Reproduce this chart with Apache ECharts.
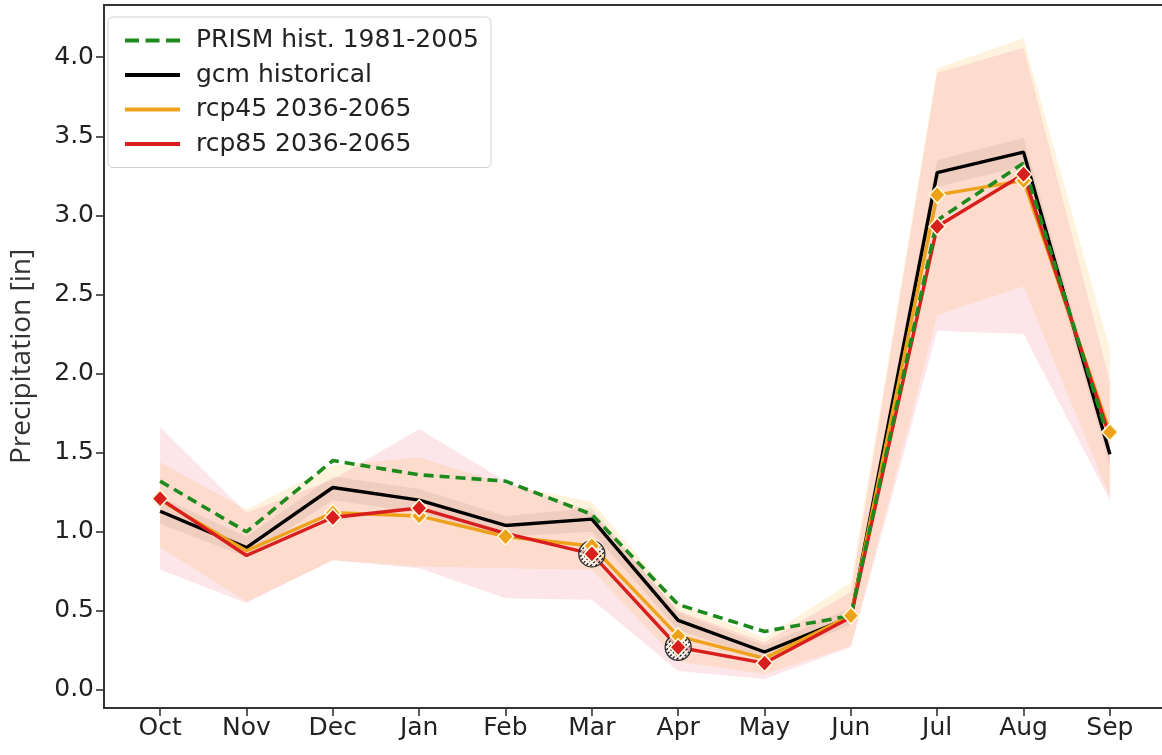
<!DOCTYPE html>
<html>
<head>
<meta charset="utf-8">
<script src="https://cdn.jsdelivr.net/npm/echarts@6/dist/echarts.min.js"></script>
<style>
html,body{margin:0;padding:0;background:#fff;}
#chart{width:1162px;height:755px;}
</style>
</head>
<body>
<div id="chart"></div>
<script>
var months = ['Oct','Nov','Dec','Jan','Feb','Mar','Apr','May','Jun','Jul','Aug','Sep'];
var yTicks = [0.0, 0.5, 1.0, 1.5, 2.0, 2.5, 3.0, 3.5, 4.0];

var prism = [1.32, 1.00, 1.45, 1.36, 1.32, 1.11, 0.54, 0.37, 0.47, 2.97, 3.33, 1.56];
var gcm   = [1.13, 0.90, 1.28, 1.20, 1.04, 1.08, 0.44, 0.24, 0.46, 3.27, 3.40, 1.49];
var rcp45 = [1.20, 0.88, 1.12, 1.10, 0.97, 0.91, 0.34, 0.20, 0.47, 3.13, 3.22, 1.63];
var rcp85 = [1.21, 0.85, 1.09, 1.15, 0.99, 0.86, 0.27, 0.17, 0.46, 2.93, 3.26, 1.60];

var rcp45Lo = [0.90, 0.56, 0.82, 0.78, 0.77, 0.76, 0.18, 0.10, 0.28, 2.37, 2.55, 1.22];
var rcp45Hi = [1.44, 1.14, 1.42, 1.47, 1.30, 1.19, 0.55, 0.33, 0.68, 3.93, 4.12, 2.15];
var rcp85Lo = [0.76, 0.55, 0.82, 0.77, 0.58, 0.57, 0.12, 0.07, 0.27, 2.27, 2.25, 1.20];
var rcp85Hi = [1.66, 1.12, 1.33, 1.65, 1.32, 1.12, 0.50, 0.30, 0.62, 3.90, 4.06, 1.95];
var gcmLo   = [1.05, 0.84, 1.20, 1.12, 0.97, 1.00, 0.38, 0.19, 0.41, 3.18, 3.31, 1.42];
var gcmHi   = [1.22, 0.97, 1.35, 1.27, 1.10, 1.15, 0.49, 0.28, 0.52, 3.35, 3.49, 1.56];

var rcp45Mark  = [0,0,1,1,1,1,1,0,1,1,1,1];
var rcp85Mark  = [1,0,1,1,0,1,1,1,0,1,1,0];
var rcp85Hatch = [0,0,0,0,0,1,1,0,0,0,0,0];

var C_GREEN = '#1e8a1e', C_BLACK = '#000000', C_ORANGE = '#eea21b', C_RED = '#d91e1e';

function pairs(arr){ return arr.map(function(v,i){ return [i, v]; }); }
function marked(arr, flags){
  var out = [];
  arr.forEach(function(v,i){ if (flags[i]) out.push([i, v]); });
  return out;
}

function bandSeries(name, lo, hi, color, z){
  return {
    name: name, type: 'custom', z: z, silent: true,
    data: [0],
    renderItem: function(params, api){
      var pts = [];
      for (var i = 0; i < lo.length; i++) pts.push(api.coord([i, hi[i]]));
      for (var j = lo.length - 1; j >= 0; j--) pts.push(api.coord([j, lo[j]]));
      return { type: 'polygon', shape: { points: pts }, style: { fill: color, stroke: null } };
    }
  };
}

// hatched circle marker drawn through api.coord
function hatchRender(params, api){
  var c = api.coord([api.value(0), api.value(1)]);
  var r = 13;
  var children = [{
    type: 'circle', shape: { cx: c[0], cy: c[1], r: r },
    style: { fill: 'rgba(255,255,255,0.6)', stroke: '#2b2b2b', lineWidth: 1.3 }
  }];
  var s = Math.SQRT1_2;
  var offs = [-10, -6.5, -3, 0.5, 4, 7.5, 11];
  offs.forEach(function(d){
    if (Math.abs(d) >= r - 0.5) return;
    var h = Math.sqrt(r * r - d * d) - 0.8;
    var mx = c[0] + d * s, my = c[1] + d * s;
    children.push({
      type: 'line',
      shape: { x1: mx - h * s, y1: my + h * s, x2: mx + h * s, y2: my - h * s },
      style: { stroke: '#1f1f1f', lineWidth: 1.3, lineDash: [2.5, 1.8] }
    });
  });
  return { type: 'group', children: children };
}

var dashIcon = 'path://M0,0h14v4h-14z M20.5,0h14v4h-14z M41,0h14v4h-14z';
var solidIcon = 'path://M0,0h55v4h-55z';

var chart = echarts.init(document.getElementById('chart'), null, {renderer: 'canvas'});
var option = {
  animation: false,
  backgroundColor: '#ffffff',
  grid: {
    left: 104, top: 5, right: -4, bottom: 47,
    outerBoundsMode: 'none', containLabel: false,
    show: true, borderColor: '#333', borderWidth: 2, backgroundColor: 'transparent'
  },
  legend: {
    orient: 'vertical', left: 108, top: 17,
    padding: [11, 12, 11, 17],
    itemGap: 9.5, itemWidth: 55, itemHeight: 4,
    backgroundColor: 'rgba(255,255,255,0.85)',
    borderColor: '#d0d0d0', borderWidth: 1, borderRadius: 5,
    textStyle: { fontFamily: 'DejaVu Sans', fontSize: 25, color: '#222', padding: [0,0,0,11], lineHeight: 24 },
    data: [
      { name: 'PRISM hist. 1981-2005', icon: dashIcon, itemStyle: { color: C_GREEN } },
      { name: 'gcm historical', icon: solidIcon, itemStyle: { color: C_BLACK } },
      { name: 'rcp45 2036-2065', icon: solidIcon, itemStyle: { color: C_ORANGE } },
      { name: 'rcp85 2036-2065', icon: solidIcon, itemStyle: { color: C_RED } }
    ]
  },
  xAxis: {
    type: 'value', min: -0.65, max: 11.65,
    splitLine: { show: false },
    axisLine: { show: true, onZero: false, lineStyle: { color: '#333', width: 2 } },
    axisTick: { show: true, customValues: [0,1,2,3,4,5,6,7,8,9,10,11], length: 8, lineStyle: { color: '#333', width: 1.6 } },
    axisLabel: {
      customValues: [0,1,2,3,4,5,6,7,8,9,10,11],
      formatter: function(v){ return months[Math.round(v)]; },
      fontFamily: 'DejaVu Sans', fontSize: 25, color: '#222', margin: 8
    }
  },
  yAxis: {
    type: 'value', min: -0.114, max: 4.33,
    name: 'Precipitation [in]', nameLocation: 'middle', nameGap: 68, nameRotate: 90,
    nameTextStyle: { fontFamily: 'Open Sans', fontSize: 28, color: '#333' },
    splitLine: { show: false },
    axisLine: { show: true, onZero: false, lineStyle: { color: '#333', width: 2 } },
    axisTick: { show: true, customValues: yTicks, length: 8, lineStyle: { color: '#333', width: 1.6 } },
    axisLabel: {
      customValues: yTicks,
      formatter: function(v){ return v.toFixed(1); },
      fontFamily: 'DejaVu Sans', fontSize: 25, color: '#222', margin: 10
    }
  },
  series: [
    bandSeries('rcp45 band', rcp45Lo, rcp45Hi, 'rgba(255,165,0,0.13)', 1),
    bandSeries('rcp85 band', rcp85Lo, rcp85Hi, 'rgba(240,48,80,0.12)', 1),
    bandSeries('gcm band', gcmLo, gcmHi, 'rgba(60,30,20,0.07)', 1),
    {
      name: 'gcm historical', type: 'line', data: pairs(gcm), z: 3,
      symbol: 'none', showSymbol: false, color: C_BLACK,
      lineStyle: { color: C_BLACK, width: 3.4 }
    },
    {
      name: 'rcp45 2036-2065', type: 'line', data: pairs(rcp45), z: 4,
      symbol: 'none', showSymbol: false, color: C_ORANGE,
      lineStyle: { color: C_ORANGE, width: 3.4 }
    },
    {
      name: 'rcp85 2036-2065', type: 'line', data: pairs(rcp85), z: 5,
      symbol: 'none', showSymbol: false, color: C_RED,
      lineStyle: { color: C_RED, width: 3.4 }
    },
    {
      name: 'PRISM hist. 1981-2005', type: 'line', data: pairs(prism), z: 6,
      symbol: 'none', showSymbol: false, color: C_GREEN,
      lineStyle: { color: C_GREEN, width: 3.6, type: [10, 6] }
    },
    {
      name: 'rcp85 hatch', type: 'custom', z: 7, silent: true,
      data: marked(rcp85, rcp85Hatch),
      renderItem: hatchRender
    },
    {
      name: 'rcp45 markers', type: 'scatter', z: 8, data: marked(rcp45, rcp45Mark),
      symbol: 'diamond', symbolSize: [16, 17],
      itemStyle: { color: C_ORANGE, borderColor: '#fff8dc', borderWidth: 1.6, opacity: 1 }
    },
    {
      name: 'rcp85 markers', type: 'scatter', z: 9, data: marked(rcp85, rcp85Mark),
      symbol: 'diamond', symbolSize: [16, 17],
      itemStyle: { color: C_RED, borderColor: '#fff8dc', borderWidth: 1.6, opacity: 1 }
    }
  ]
};
chart.setOption(option);
</script>
</body>
</html>
